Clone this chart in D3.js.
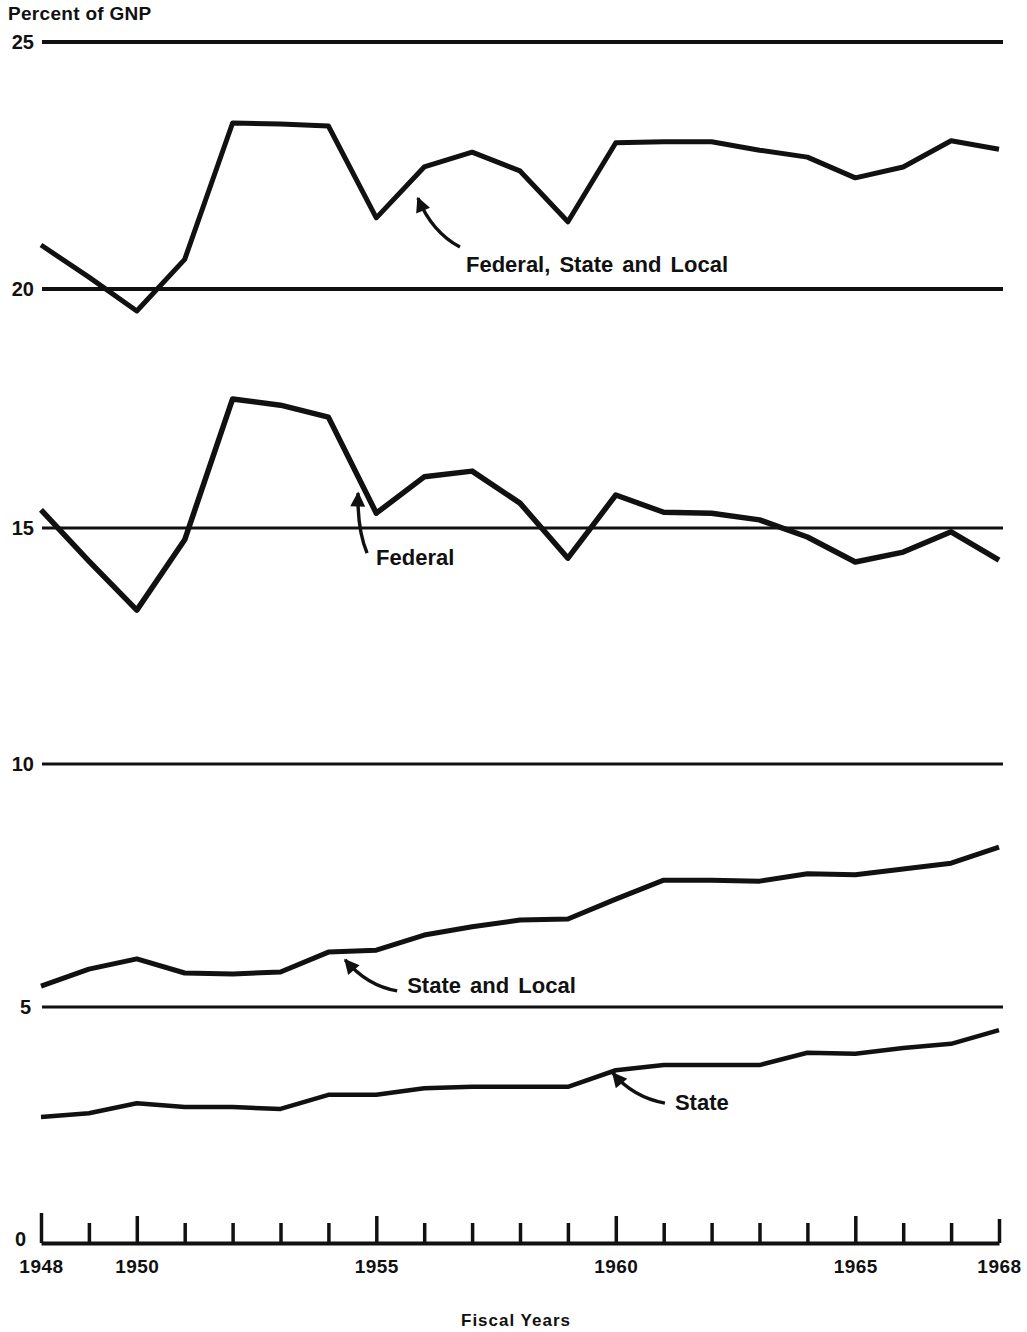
<!DOCTYPE html>
<html>
<head>
<meta charset="utf-8">
<script src="https://cdn.jsdelivr.net/npm/d3@7/dist/d3.min.js"></script>
<style>
body{margin:0;background:#fff}
text{font-family:"Liberation Sans",Arial,Helvetica,sans-serif;fill:#111}
</style>
</head>
<body>
<div id="stage"></div>
<script>

// fiscal years on the x axis
var years=[1948,1949,1950,1951,1952,1953,1954,1955,1956,1957,1958,
           1959,1960,1961,1962,1963,1964,1965,1966,1967,1968];
var labelYears=[1948,1950,1955,1960,1965,1968];
var gridValues=[5,10,15,20,25];
var yTickValues=[0,5,10,15,20,25];

// percent of GNP
var totalGov=[20.89,20.24,19.54,20.6,23.36,23.34,23.3,21.44,22.47,22.77,22.39,
              21.36,22.96,22.98,22.98,22.81,22.67,22.25,22.47,23.0,22.83];
var federal=[15.38,14.3,13.26,14.75,17.7,17.57,17.32,15.31,16.07,16.19,15.52,
             14.36,15.69,15.33,15.31,15.17,14.81,14.28,14.49,14.92,14.32];
var stateLocal=[5.43,5.78,5.99,5.7,5.68,5.72,6.13,6.17,6.48,6.65,6.79,
                6.81,7.22,7.61,7.61,7.59,7.74,7.72,7.84,7.96,8.29];
var stateOnly=[2.67,2.75,2.96,2.88,2.88,2.84,3.14,3.14,3.28,3.31,3.31,
               3.31,3.66,3.77,3.77,3.77,4.03,4.01,4.13,4.22,4.51];

var seriesNames=["Federal, State and Local","Federal","State and Local","State"];

var W=1027,H=1332;

var svg=d3.select("#stage").append("svg")
  .attr("width",W).attr("height",H);

var x=d3.scaleLinear().domain([1948,1968]).range([41,999]);
// scanned original is not perfectly even, so map each gridline
var y=d3.scaleLinear().domain([0,5,10,15,20,25]).range([1243,1007,764,528,289,42]);

svg.append("defs").append("marker")
  .attr("id","head")
  .attr("viewBox","0 0 10 10")
  .attr("refX",9).attr("refY",5)
  .attr("markerWidth",5).attr("markerHeight",4.4)
  .attr("markerUnits","strokeWidth")
  .attr("orient","auto")
  .append("path").attr("d","M0,0 L10,5 L0,10 Z").attr("fill","#111");

// horizontal gridlines
var gridW={5:3,10:3,15:3,20:4,25:4};
svg.selectAll("line.grid")
  .data(gridValues)
  .enter().append("line")
  .attr("class","grid")
  .attr("x1",x(1948)+1).attr("x2",x(1968)+4)
  .attr("y1",function(d){return y(d)}).attr("y2",function(d){return y(d)})
  .attr("stroke","#111")
  .attr("stroke-width",function(d){return gridW[d]})

// y labels
var yAxis=d3.axisLeft(y).tickValues(yTickValues).tickSize(0).tickPadding(0)
  .tickFormat(d3.format("d"));
var gy=svg.append("g").attr("transform","translate(34,0)").call(yAxis);
gy.select(".domain").remove();
gy.selectAll("text")
  .style("font-size","20px").style("font-weight","bold")
  .attr("dy",function(d){return d==0?"0.1em":"0.34em"})
  .attr("x",function(d){return d==0?-8:(d==5?-3:0)});

// x axis
var xAxis=d3.axisBottom(x).tickValues(years)
  .tickSizeInner(-20).tickSizeOuter(0).tickPadding(17)
  .tickFormat(function(d){return labelYears.indexOf(d)>=0?d:""});
var gx=svg.append("g").attr("transform","translate(0,"+y(0)+")").call(xAxis);
gx.select(".domain").attr("stroke","#111").attr("stroke-width",4);
gx.selectAll(".tick line")
  .attr("stroke","#111").attr("stroke-width",3.5)
  .attr("y2",function(d){
    if(d==1948) return -30;
    if(d==1968) return -24;
    return labelYears.indexOf(d)>=0?-27:-20;
  });
gx.selectAll(".tick text")
  .style("font-size","19px").style("font-weight","bold")
  .style("letter-spacing","0.5px");

svg.append("text")
  .attr("x",8).attr("y",20)
  .style("font-size","19px").style("font-weight","bold")
  .style("letter-spacing","0.3px")
  .text("Percent of GNP");

svg.append("text")
  .attr("x",516).attr("y",1326)
  .attr("text-anchor","middle")
  .style("font-size","17px").style("font-weight","bold")
  .style("letter-spacing","1px")
  .text("Fiscal Years");

// the four series
var allSeries=[
  {name:seriesNames[0],values:totalGov,w:5},
  {name:seriesNames[1],values:federal,w:5.5},
  {name:seriesNames[2],values:stateLocal,w:5},
  {name:seriesNames[3],values:stateOnly,w:4.5}
];

var line=d3.line()
  .x(function(d,i){return x(years[i])})
  .y(function(d){return y(d)});

svg.selectAll("path.series")
  .data(allSeries)
  .enter().append("path")
  .attr("class","series")
  .attr("d",function(s){return line(s.values)})
  .attr("fill","none")
  .attr("stroke","#111")
  .attr("stroke-width",function(s){return s.w})
  .attr("stroke-linejoin","round");

// labels with curved arrows; tip in data units, tail/control/text as offsets
var notes=[
  {text:seriesNames[0],yr:1955.87,v:21.84,tail:[42,49],ctrl:[14,34],txt:[48,74]},
  {text:seriesNames[1],yr:1954.62,v:15.73,tail:[9,60],ctrl:[-1,36],txt:[18,72]},
  {text:seriesNames[2],yr:1954.35,v:5.97,tail:[52,31],ctrl:[22,26],txt:[62,33]},
  {text:seriesNames[3],yr:1959.94,v:3.60,tail:[52,30],ctrl:[20,24],txt:[62,37]}
];

notes.forEach(function(n){
  var tx=x(n.yr),ty=y(n.v);
  svg.append("path")
    .attr("d","M"+(tx+n.tail[0])+","+(ty+n.tail[1])+
              " Q"+(tx+n.ctrl[0])+","+(ty+n.ctrl[1])+" "+tx+","+ty)
    .attr("fill","none").attr("stroke","#111").attr("stroke-width",3.4)
    .attr("marker-end","url(#head)");
  svg.append("text")
    .attr("x",tx+n.txt[0]).attr("y",ty+n.txt[1])
    .style("font-size","22px").style("font-weight","bold")
    .style("word-spacing","3px")
    .text(n.text);
});

</script>
</body>
</html>
